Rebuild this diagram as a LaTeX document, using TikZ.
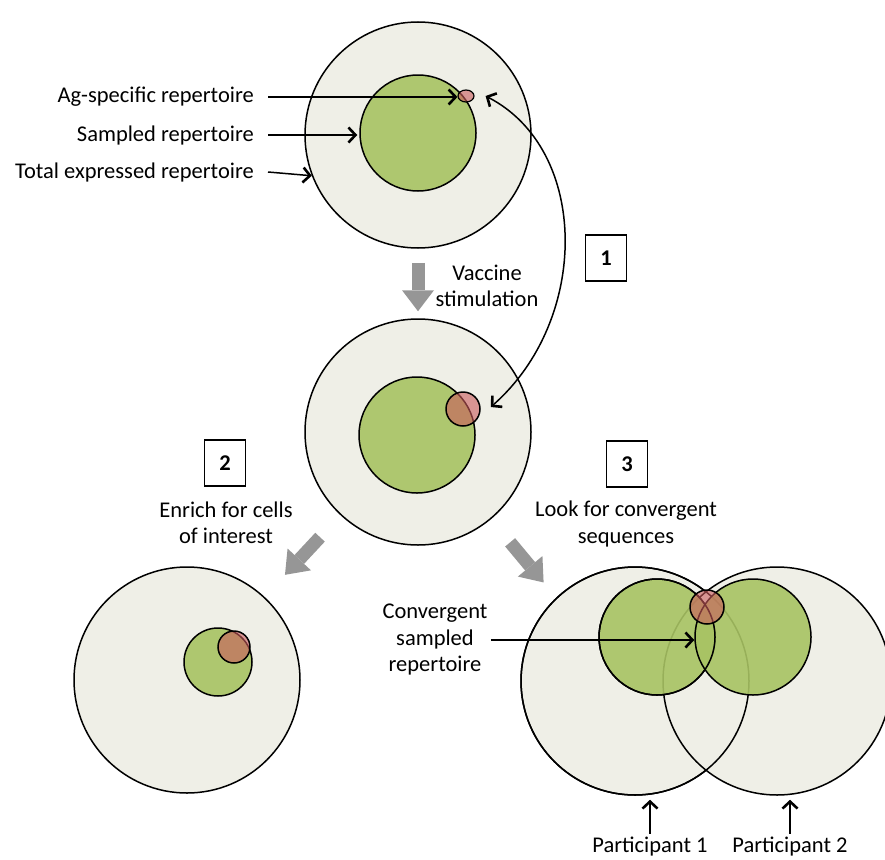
\documentclass[tikz,border=0pt]{standalone}
\usepackage{fontspec}
\setmainfont{Carlito}
\usetikzlibrary{arrows.meta,shapes.geometric}
\definecolor{poolc}{RGB}{239,239,231}
\definecolor{sampc}{RGB}{168,195,99}
\definecolor{agc}{RGB}{202,90,92}
\definecolor{arrc}{RGB}{150,150,150}
\begin{document}
\begin{tikzpicture}[x=1pt,y=-1pt,
  every node/.style={font=\fontsize{22.5}{26.5}\selectfont},
  pool/.style={circle,draw,line width=1.5pt,fill=poolc,inner sep=0pt,minimum size=#1},
  samp/.style={circle,draw,line width=1.5pt,fill=sampc,fill opacity=0.9,inner sep=0pt,minimum size=#1},
  agsp/.style={circle,draw,line width=1.5pt,fill=agc,fill opacity=0.6,inner sep=0pt,minimum size=#1},
  lbl/.style={inner sep=2pt},
  barb/.tip={Straight Barb[length=7pt,width=15pt,line width=2.6pt]},
  ptr/.style={line width=1.5pt,-barb},
  bigarrow/.style={line width=13pt,draw=arrc,-{Triangle[length=21pt,width=32pt,line width=0pt]}},
  numbox/.style={draw,line width=1.5pt,minimum width=41pt,minimum height=46pt,inner sep=0pt,font=\fontsize{22.5}{26}\selectfont\bfseries}]
\useasboundingbox (0,0) rectangle (885,859);

% before vaccination
\node[pool=226pt] (top) at (418,135) {};
\node[samp=116pt] (topsamp) at (418,133) {};
\node[ellipse,draw,line width=1.2pt,fill=agc,fill opacity=0.6,inner sep=0pt,minimum width=16pt,minimum height=12pt] (topag) at (466,96) {};

\node[lbl,anchor=east] (agtxt) at (256,97) {Ag-specific repertoire};
\node[lbl,anchor=east] (samptxt) at (256,135) {Sampled repertoire};
\node[lbl,anchor=east] (tottxt) at (256,172) {Total expressed repertoire};
\draw[ptr] ([xshift=12pt]agtxt.east) -- (agtxt.east -| topag.west);
\draw[ptr,shorten >=2pt] ([xshift=12pt]samptxt.east) -- (samptxt.east -| topsamp.west);
\draw[ptr] ([xshift=12pt]tottxt.east) -- (top.201);

% after vaccination
\node[pool=226pt] (mid) at (418,432) {};
\node[samp=116pt] (midsamp) at (417,435) {};
\node[agsp=34pt] (midag) at (463,409) {};

\draw[bigarrow,shorten <=14pt,shorten >=7pt] (top.south) -- (mid.north);
\node[align=center] (vac) at (487,286) {Vaccine\\stimulation};

\node[numbox] (s1) at (606,258) {1};
\draw[line width=1.5pt,barb-barb]
  ([xshift=11pt]topag.east) .. controls (590,150) and (590,320) .. ([shift={(10,-2)}]midag.east);

% enrich
\node[pool=226pt] (enr) at (187,680) {};
\node[samp=68pt] (enrsamp) at (218,662) {};
\node[agsp=32pt] (enrag) at (234,647) {};

\draw[bigarrow,shorten <=30pt,shorten >=30pt] (mid) -- (enr);
\node[numbox] (s2) at (225,463) {2};
\node[align=center] (enrtxt) at (226,523) {Enrich for cells\\of interest};

% convergence
\node[pool=228pt] (pa) at (635,681) {};
\node[pool=228pt] (pb) at (777,681) {};
\draw[line width=1.5pt] (pa.center) circle[radius=114pt];
\node[samp=116pt] (ga) at (657,637) {};
\node[samp=116pt] (gb) at (753,637) {};
\draw[line width=1.5pt] (ga.center) circle[radius=58pt];
\node[agsp=34pt] (cvag) at (707,607) {};

\coordinate (cvtarget) at (600,650);
\draw[bigarrow,shorten <=30pt,shorten >=88pt] (mid) -- (cvtarget);
\node[numbox] (s3) at (627,464) {3};
\node[align=center] (looktxt) at (626,524) {Look for convergent\\sequences};

\node[align=center] (cvtxt) at (435,640) {Convergent\\sampled\\repertoire};
\draw[ptr] (cvtxt.east) -- (cvtxt.east -| gb.west);

\node (p1txt) at (650,847) {Participant 1};
\node (p2txt) at (790,847) {Participant 2};
\draw[ptr,shorten >=4pt] (p1txt.north) -- (p1txt.north |- pa.south);
\draw[ptr,shorten >=4pt] (p2txt.north) -- (p2txt.north |- pb.south);
\end{tikzpicture}
\end{document}
